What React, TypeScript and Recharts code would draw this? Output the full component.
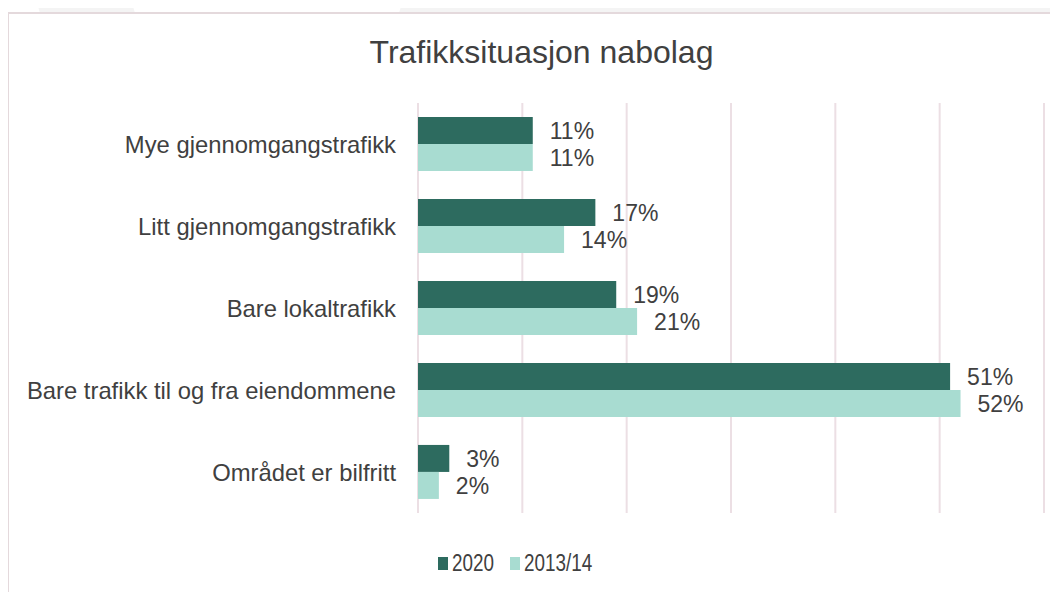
import React from "react";
import { BarChart, Bar, XAxis, YAxis, CartesianGrid, LabelList } from "recharts";

const categories = [
  "Mye gjennomgangstrafikk",
  "Litt gjennomgangstrafikk",
  "Bare lokaltrafikk",
  "Bare trafikk til og fra eiendommene",
  "Området er bilfritt",
];
const values2020 = [11, 17, 19, 51, 3];
const values2013 = [11, 14, 21, 52, 2];
const xTicks = [0, 10, 20, 30, 40, 50, 60];
const seriesNames = ["2020", "2013/14"];

const data = categories.map((c, i) => ({ cat: c, a: values2020[i], b: values2013[i] }));

const FONT = "'Liberation Sans', Arial, sans-serif";
const TEXT = "#404040";
const DARK = "#2d6b5f";
const LIGHT = "#a8dcd1";
const seriesColors = [DARK, LIGHT];

const CatTick = (props: any) => {
  const { y, payload } = props;
  return (
    <text x={396} y={y} dy="0.36em" textAnchor="end" fill={TEXT} fontSize={23.8} fontFamily={FONT}>
      {payload.value}
    </text>
  );
};

const legendLefts = [438, 510];

export default function App() {
  return (
    <div style={{ position: "relative", width: 1058, height: 592, margin: "-8px 0 0 -8px", overflow: "hidden", background: "#fff" }}>
      <div style={{ position: "absolute", left: 0, top: 0, width: 1058, height: 13, background: "#f4f4f4", clipPath: "polygon(36px 0, 131px 0, 135px 13px, 40px 13px)" }} />
      <div style={{ position: "absolute", left: 0, top: 0, width: 1058, height: 13, background: "#f4f4f4", clipPath: "polygon(403px 0, 1058px 0, 1058px 13px, 399px 13px)" }} />
      <div style={{ position: "absolute", left: 7, top: 12, width: 1100, height: 700, border: "2px solid #e4d9dc", background: "#fff", boxSizing: "border-box" }} />
      <div
        style={{
          position: "absolute",
          left: 0,
          top: 36,
          width: 1083,
          textAlign: "center",
          fontFamily: FONT,
          fontSize: 32,
          lineHeight: "32px",
          color: TEXT,
        }}
      >
        Trafikksituasjon nabolag
      </div>
      <div style={{ position: "absolute", left: 0, top: 0 }}>
        <BarChart
          width={1058}
          height={592}
          data={data}
          layout="vertical"
          margin={{ top: 103, right: 14, bottom: 79, left: 0 }}
          barCategoryGap="17%"
          barGap={0}
        >
          <CartesianGrid horizontal={false} stroke="#ecdfe4" strokeWidth={2} />
          <XAxis type="number" domain={[0, 60]} ticks={xTicks} hide />
          <YAxis type="category" dataKey="cat" width={418} axisLine={false} tickLine={false} tick={<CatTick />} interval={0} />
          <Bar dataKey="a" name={seriesNames[0]} fill={DARK} isAnimationActive={false}>
            <LabelList dataKey="a" position="right" offset={17} formatter={(v: any) => `${v}%`} fill={TEXT} fontSize={23} fontFamily={FONT} />
          </Bar>
          <Bar dataKey="b" name={seriesNames[1]} fill={LIGHT} isAnimationActive={false}>
            <LabelList dataKey="b" position="right" offset={17} formatter={(v: any) => `${v}%`} fill={TEXT} fontSize={23} fontFamily={FONT} />
          </Bar>
        </BarChart>
      </div>
      {seriesNames.map((name, i) => (
        <div key={name} style={{ position: "absolute", left: legendLefts[i], top: 552, height: 30 }}>
          <div style={{ position: "absolute", left: 0, top: 5, width: 10, height: 13, background: seriesColors[i] }} />
          <div
            style={{
              position: "absolute",
              left: 14,
              top: 0,
              fontFamily: FONT,
              fontSize: 23,
              lineHeight: "23px",
              color: TEXT,
              whiteSpace: "nowrap",
              transform: "scaleX(0.82)",
              transformOrigin: "left",
            }}
          >
            {name}
          </div>
        </div>
      ))}
    </div>
  );
}
